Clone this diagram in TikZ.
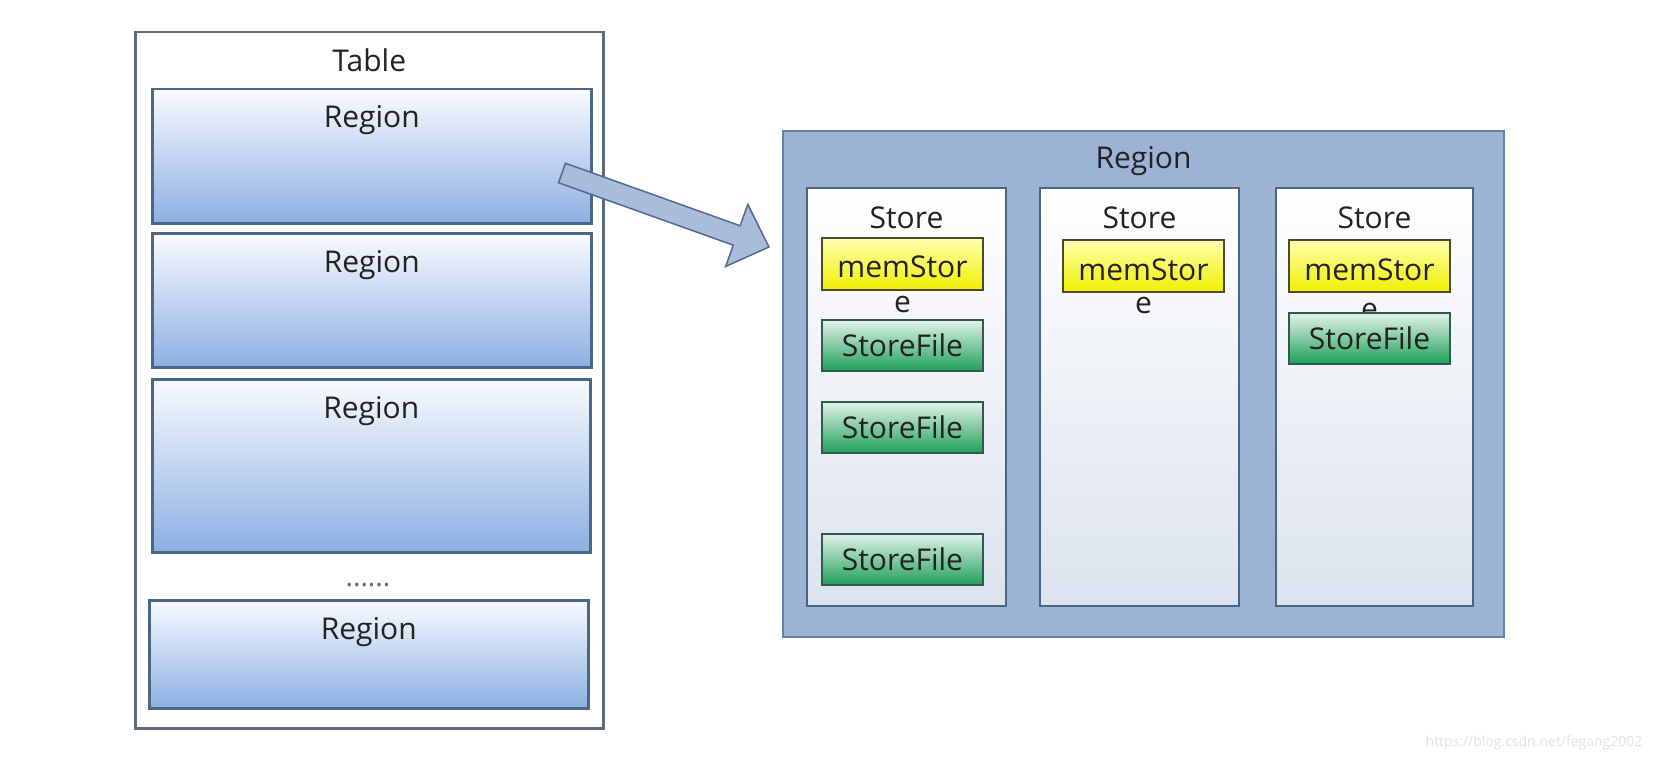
\documentclass[tikz,border=0pt]{standalone}
\usepackage{fontspec}
\setmainfont{Open Sans}
\usepackage{tikz}
\usetikzlibrary{calc}

\definecolor{framegray}{HTML}{5E6B76}
\definecolor{txtgray}{HTML}{222222}
\definecolor{regborder}{HTML}{4C6686}
\definecolor{regtop}{HTML}{F8FBFE}
\definecolor{regbot}{HTML}{8CB0E2}
\definecolor{bigfill}{HTML}{9DB3D3}
\definecolor{bigborder}{HTML}{6680A8}
\definecolor{storeborder}{HTML}{4A6488}
\definecolor{storebot}{HTML}{DCE3EE}
\definecolor{memborder}{HTML}{4A4A32}
\definecolor{memtop}{HTML}{FFFFB0}
\definecolor{membot}{HTML}{F0F000}
\definecolor{fileborder}{HTML}{2E5A50}
\definecolor{filetop}{HTML}{E2F3E9}
\definecolor{filebot}{HTML}{1EA058}
\definecolor{arrowfill}{HTML}{A9BCD9}
\definecolor{arrowborder}{HTML}{4F6A94}

\begin{document}
\begin{tikzpicture}[x=1pt,y=-1pt,
    box/.style={rectangle, anchor=north west, inner sep=0pt},
    lbl/.style={anchor=base, text=txtgray, font=\fontsize{30}{36}\selectfont},
    tblregion/.style={box, draw=regborder, line width=2.5pt, top color=regtop, bottom color=regbot},
    storebox/.style={box, draw=storeborder, line width=2pt, top color=white, bottom color=storebot,
                     minimum width=199pt, minimum height=418pt},
    membox/.style={box, draw=memborder, line width=2pt, top color=memtop, bottom color=membot,
                   minimum width=161pt, minimum height=52pt},
    filebox/.style={box, draw=fileborder, line width=2pt, top color=filetop, bottom color=filebot,
                    minimum width=161pt, minimum height=51pt, text=txtgray,
                    font=\fontsize{30}{36}\selectfont}]
  \useasboundingbox (0,0) rectangle (1658,760);

  % left: the table and its regions
  \node[box, draw=framegray, line width=2.5pt, fill=white,
        minimum width=468pt, minimum height=696pt] (table) at (134,31) {};
  \node[lbl] (tablelbl) at ($(table.north)+(0,40)$) {Table};
  \node[tblregion, minimum width=439pt, minimum height=134pt] (reg1) at (151,88) {};
  \node[tblregion, minimum width=439pt, minimum height=134pt] (reg2) at (151,232) {};
  \node[tblregion, minimum width=438pt, minimum height=173pt] (reg3) at (151,378) {};
  \node[tblregion, minimum width=439pt, minimum height=108pt] (reg4) at (148,599) {};
  \foreach \r in {reg1,reg2,reg3,reg4}
    \node[lbl] (\r lbl) at ($(\r.north)+(0,40)$) {Region};
  \node[anchor=base, text=framegray, font=\fontsize{28}{30}\selectfont] (dots) at (368,586) {......};

  % right: one region opened up
  \node[box, draw=bigborder, line width=2pt, fill=bigfill,
        minimum width=721pt, minimum height=506pt] (bigreg) at (782,130) {};
  \node[lbl] (bigreglbl) at ($(bigreg.north)+(0,38)$) {Region};
  \node[storebox] (store1) at (806,187) {};
  \node[storebox] (store2) at (1039,187) {};
  \node[storebox, minimum width=197pt] (store3) at (1275,187) {};
  \foreach \s in {store1,store2,store3}
    \node[lbl] (\s lbl) at ($(\s.north)+(0,41)$) {Store};

  \node[membox] (mem1) at (821,237) {};
  \node[membox] (mem2) at (1062,239) {};
  \node[membox] (mem3) at (1288,239) {};
  \node[lbl] (mem1a) at ($(mem1.north)+(0,40)$) {memStor};
  \node[lbl] (mem1b) at ($(mem1.north)+(0,75)$) {e};
  \node[lbl] (mem2a) at ($(mem2.north)+(0,41)$) {memStor};
  \node[lbl] (mem2b) at ($(mem2.north)+(0,74)$) {e};
  \node[lbl] (mem3a) at ($(mem3.north)+(0,41)$) {memStor};
  \node[lbl] (mem3b) at ($(mem3.north)+(0,80)$) {e};

  \node[filebox] (file1) at (821,319) {StoreFile};
  \node[filebox] (file2) at (821,401) {StoreFile};
  \node[filebox] (file3) at (821,533) {StoreFile};
  \node[filebox] (file4) at (1288,312) {StoreFile};

  % the fat arrow from the first region to the opened one
  \coordinate (tail) at (562,173);
  \coordinate (tip) at (769,247);
  \coordinate (neck) at ($(tail)!0.844!(tip)$);
  \filldraw[fill=arrowfill, draw=arrowborder, line width=1.5pt, line join=miter]
    ($(tail)!0.047!90:(tip)$) -- ($(neck)!0.30!90:(tip)$) -- ($(neck)!0.96!90:(tip)$)
    -- (tip) -- ($(neck)!0.96!-90:(tip)$) -- ($(neck)!0.30!-90:(tip)$)
    -- ($(tail)!0.047!-90:(tip)$) -- cycle;

  \node[anchor=base, text=black!12, font=\fontsize{14}{16}\selectfont] (mark) at (1534,746)
    {https://blog.csdn.net/fegang2002};
\end{tikzpicture}
\end{document}
